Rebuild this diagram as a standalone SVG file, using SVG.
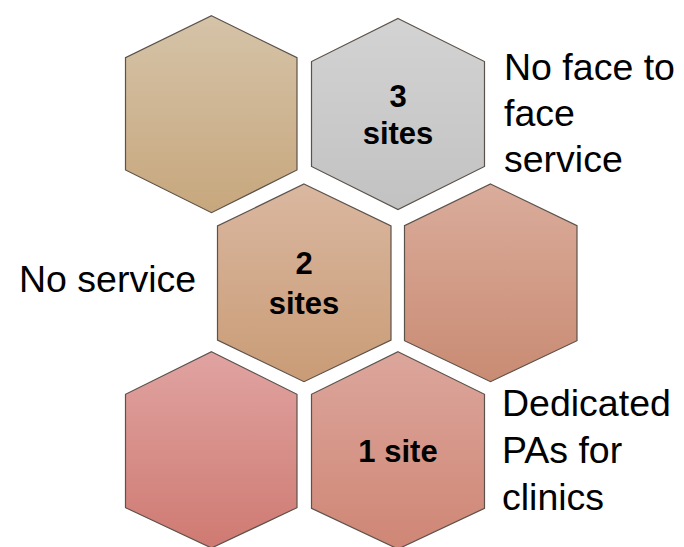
<svg xmlns="http://www.w3.org/2000/svg" width="684" height="547" viewBox="0 0 684 547">
<defs>
<linearGradient id="g1" x1="0" y1="0" x2="0" y2="1"><stop offset="0" stop-color="#d5c3a8"/><stop offset="1" stop-color="#c7a77d"/></linearGradient>
<linearGradient id="g2" x1="0" y1="0" x2="0" y2="1"><stop offset="0" stop-color="#d3d3d3"/><stop offset="1" stop-color="#c2c2c2"/></linearGradient>
<linearGradient id="g3" x1="0" y1="0" x2="0" y2="1"><stop offset="0" stop-color="#dab7a0"/><stop offset="1" stop-color="#c99c76"/></linearGradient>
<linearGradient id="g4" x1="0" y1="0" x2="0" y2="1"><stop offset="0" stop-color="#daac9b"/><stop offset="1" stop-color="#c98b73"/></linearGradient>
<linearGradient id="g5" x1="0" y1="0" x2="0" y2="1"><stop offset="0" stop-color="#e0a3a1"/><stop offset="1" stop-color="#cf7a72"/></linearGradient>
<linearGradient id="g6" x1="0" y1="0" x2="0" y2="1"><stop offset="0" stop-color="#dca69c"/><stop offset="1" stop-color="#cf8675"/></linearGradient>
</defs>
<style>
.hex{stroke:#5b524b;stroke-width:1.2;stroke-linejoin:miter}
.lbl{font-family:"Liberation Sans",Arial,sans-serif;font-weight:bold;font-size:31px;fill:#000;text-anchor:middle}
.side{font-family:"Liberation Sans",Arial,sans-serif;font-size:37.5px;fill:#000}
</style>
<g id="hex-top-left"><polygon class="hex" fill="url(#g1)" points="211.5,15.7 297,57.7 297,170 211.5,212.7 125.5,170 125.5,57.7"/></g>
<g id="hex-3-sites"><polygon class="hex" fill="url(#g2)" points="398,18.5 484.5,61.5 484.5,166.5 398,209.5 311.5,166.5 311.5,61.5"/>
<text class="lbl" x="398" y="107">3</text><text class="lbl" x="398" y="144">sites</text></g>
<g id="hex-2-sites"><polygon class="hex" fill="url(#g3)" points="304,184 391,226 391,340 304,381.7 217.5,340 217.5,226"/>
<text class="lbl" x="304" y="274">2</text><text class="lbl" x="304" y="314">sites</text></g>
<g id="hex-mid-right"><polygon class="hex" fill="url(#g4)" points="490.5,184 577,225.7 577,340.7 490.5,381.7 404.5,340.7 404.5,225.7"/></g>
<g id="hex-bottom-left"><polygon class="hex" fill="url(#g5)" points="211.5,351.7 297,394.3 297,507.7 211.5,548 125.5,507.7 125.5,394.3"/></g>
<g id="hex-1-site"><polygon class="hex" fill="url(#g6)" points="398,351.7 484.5,394.3 484.5,508.3 398,549 311.5,508.3 311.5,394.3"/>
<text class="lbl" x="398" y="462">1 site</text></g>
<g id="connectors"/>
<g id="label-no-face"><text class="side" x="504" y="79.5">No face to</text><text class="side" x="504" y="125.5">face</text><text class="side" x="504" y="171.5">service</text></g>
<g id="label-no-service"><text class="side" x="19" y="291.5">No service</text></g>
<g id="label-dedicated"><text class="side" x="502" y="416">Dedicated</text><text class="side" x="502" y="463">PAs for</text><text class="side" x="502" y="510">clinics</text></g>
</svg>
